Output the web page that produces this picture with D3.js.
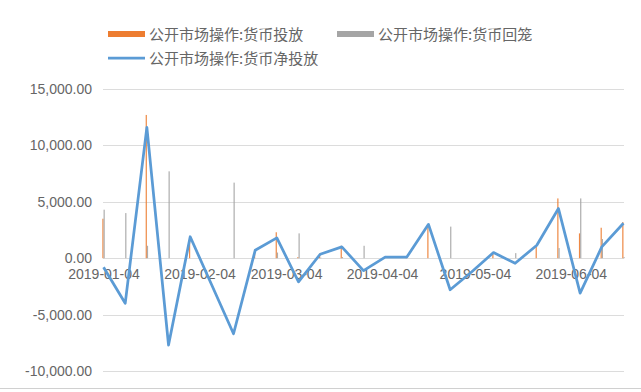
<!DOCTYPE html>
<html>
<head>
<meta charset="utf-8">
<script src="https://cdn.jsdelivr.net/npm/d3@7"></script>
<style>
    body { margin: 0; background: #fff; }
    svg { font-family: "Liberation Sans", "Noto Sans CJK SC", sans-serif; }
    .axis text { fill: #666; font-size: 14px; }
    .axis .domain { display: none; }
    .grid line { stroke: #dcdcdc; stroke-width: 1px; shape-rendering: crispEdges; }
    .legend text { fill: #666; font-size: 15px; font-family: "Noto Sans CJK SC", sans-serif; }
</style>
</head>
<body>
<div id="chart"></div>
<script>
    // weekly dates (Fridays)
    var dates = ["2019-01-04", "2019-01-11", "2019-01-18", "2019-01-25", "2019-02-01", "2019-02-08",
        "2019-02-15", "2019-02-22", "2019-03-01", "2019-03-08", "2019-03-15", "2019-03-22",
        "2019-03-29", "2019-04-05", "2019-04-12", "2019-04-19", "2019-04-26", "2019-05-03",
        "2019-05-10", "2019-05-17", "2019-05-24", "2019-05-31", "2019-06-07", "2019-06-14",
        "2019-06-21"];

    // 公开市场操作:货币投放
    var injection = [3500, 0, 12700, 0, 1900, 0, 0, 700, 2300, 100, 400, 1100, 0, 100, 100, 3000,
        0, 0, 500, 0, 1150, 5300, 2200, 2700, 3200];
    // 公开市场操作:货币回笼
    var withdrawal = [4300, 4000, 1100, 7700, 0, 0, 6700, 0, 500, 2200, 50, 100, 1100, 0, 0, 0,
        2800, 0, 0, 450, 0, 900, 5300, 1700, 100];
    // 公开市场操作:货币净投放
    var netInjection = [-800, -4000, 11600, -7700, 1900, -2400, -6700, 700, 1800, -2100, 350, 1000,
        -1100, 100, 100, 3000, -2800, -1200, 500, -450, 1150, 4400, -3100, 1000, 3100];

    var yTicks = [-10000, -5000, 0, 5000, 10000, 15000];
    var xTicks = ["2019-01-04", "2019-02-04", "2019-03-04", "2019-04-04", "2019-05-04", "2019-06-04"];

    var seriesNames = ["公开市场操作:货币投放", "公开市场操作:货币回笼", "公开市场操作:货币净投放"];
    var colors = ["#ed7d31", "#a5a5a5", "#5b9bd5"];

    var width = 641, height = 392;
    var parse = d3.timeParse("%Y-%m-%d");
    var day = 24 * 3600 * 1000;

    var svg = d3.select("#chart").append("svg")
        .attr("width", width)
        .attr("height", height);

    var first = parse(dates[0]), last = parse(dates[dates.length - 1]);
    var x = d3.scaleTime()
        .domain([new Date(+first - day / 2), new Date(+last + day / 2)])
        .range([102, 625]);

    var y = d3.scaleLinear()
        .domain([-10000, 15000])
        .range([371, 89]);

    // Excel style: hyphen minus, two decimals
    var fmt = d3.format(",.2f");
    function yFormat(d) { return fmt(d).replace("\u2212", "-"); }

    // gridlines + y labels
    svg.append("g")
        .attr("class", "axis grid")
        .attr("transform", "translate(103,0)")
        .call(d3.axisLeft(y)
            .tickValues(yTicks)
            .tickSize(-521)
            .tickPadding(11)
            .tickFormat(yFormat));

    // date labels sitting under the zero line
    svg.append("g")
        .attr("class", "axis")
        .attr("transform", "translate(0," + y(0) + ")")
        .call(d3.axisBottom(x)
            .tickValues(xTicks.map(parse))
            .tickSize(0)
            .tickPadding(11)
            .tickFormat(d3.timeFormat("%Y-%m-%d")));

    // thin bars, one day wide per cluster
    var barW = 1.2;
    var bars = svg.append("g").attr("opacity", 0.9);
    bars.selectAll(".inj")
        .data(injection)
        .enter().append("rect")
        .attr("x", function (d, i) { return x(parse(dates[i])) - barW; })
        .attr("y", function (d) { return y(Math.max(d, 0)); })
        .attr("width", barW)
        .attr("height", function (d) { return Math.abs(y(d) - y(0)); })
        .attr("fill", colors[0]);
    bars.selectAll(".wd")
        .data(withdrawal)
        .enter().append("rect")
        .attr("x", function (d, i) { return x(parse(dates[i])); })
        .attr("y", function (d) { return y(Math.max(d, 0)); })
        .attr("width", barW)
        .attr("height", function (d) { return Math.abs(y(d) - y(0)); })
        .attr("fill", colors[1]);

    // net line
    var line = d3.line()
        .x(function (d, i) { return x(parse(dates[i])); })
        .y(function (d) { return y(d); });

    svg.append("path")
        .datum(netInjection)
        .attr("d", line)
        .attr("fill", "none")
        .attr("stroke", colors[2])
        .attr("stroke-width", 2.75)
        .attr("stroke-linejoin", "round");

    // legend
    var legend = svg.append("g").attr("class", "legend");
    legend.append("rect").attr("x", 108).attr("y", 31).attr("width", 37).attr("height", 6).attr("fill", colors[0]);
    legend.append("text").attr("x", 149).attr("y", 39.5).text(seriesNames[0]);
    legend.append("rect").attr("x", 337).attr("y", 31).attr("width", 37).attr("height", 6).attr("fill", colors[1]);
    legend.append("text").attr("x", 378).attr("y", 39.5).text(seriesNames[1]);
    legend.append("line").attr("x1", 108).attr("x2", 145).attr("y1", 58).attr("y2", 58)
        .attr("stroke", colors[2]).attr("stroke-width", 2.75);
    legend.append("text").attr("x", 149).attr("y", 63.5).text(seriesNames[2]);

    // bottom border of the chart frame
    svg.append("line")
        .attr("x1", 0).attr("x2", width)
        .attr("y1", 388.5).attr("y2", 388.5)
        .attr("stroke", "#d0d0d0");
</script>
</body>
</html>
